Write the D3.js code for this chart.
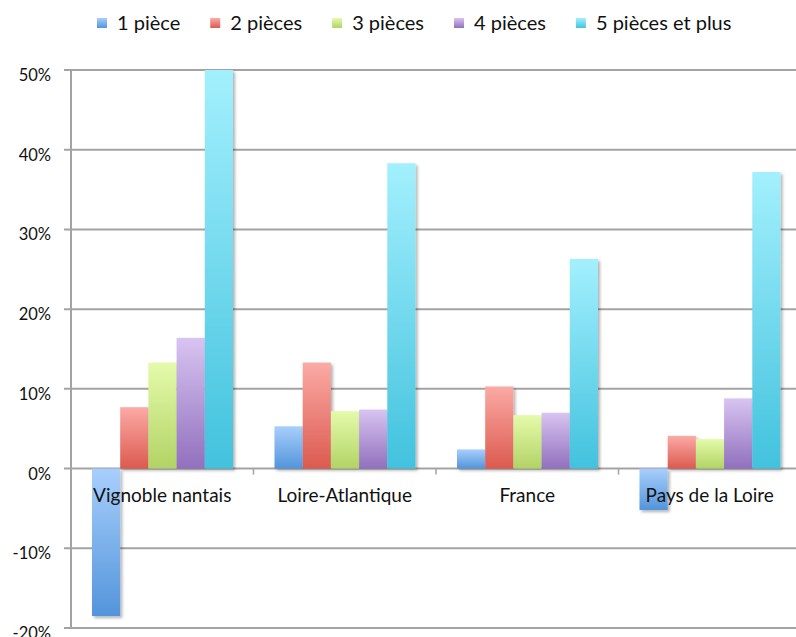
<!DOCTYPE html>
<html>
<head>
<meta charset="utf-8">
<script src="https://cdn.jsdelivr.net/npm/d3@7"></script>
<style>
  body { margin: 0; background: #fff; }
  text { font-family: Lato, "Open Sans", sans-serif; fill: #111; }
</style>
</head>
<body>
<div id="chart"></div>
<script>
"use strict"

var width = 796,
	height = 637;

// data (fractions)
var categories = ["Vignoble nantais", "Loire-Atlantique", "France", "Pays de la Loire"];
var series = ["1 pièce", "2 pièces", "3 pièces", "4 pièces", "5 pièces et plus"];
var v_1p = [-0.185, 0.053, 0.024, -0.052];
var v_2p = [0.077, 0.133, 0.103, 0.041];
var v_3p = [0.133, 0.072, 0.067, 0.037];
var v_4p = [0.164, 0.074, 0.070, 0.088];
var v_5p = [0.500, 0.383, 0.263, 0.372];
var yticks = [-0.2, -0.1, 0, 0.1, 0.2, 0.3, 0.4, 0.5];

var values = [v_1p, v_2p, v_3p, v_4p, v_5p];
// light (top) / dark (bottom) gradient stops
var colors = [
	["#a8cffc", "#5394db"],
	["#fbaaa5", "#dc5a4f"],
	["#e4fbab", "#b2d365"],
	["#d8c4f1", "#9170bd"],
	["#a3f0fd", "#42c2de"]
];

var x0 = 71, band = 182.5;

var svg = d3.select("#chart").append("svg")
	.attr("width", width)
	.attr("height", height);

var defs = svg.append("defs");
colors.forEach(function(c, i) {
	var g = defs.append("linearGradient")
		.attr("id", "grad" + i)
		.attr("x1", 0).attr("y1", 0).attr("x2", 0).attr("y2", 1);
	g.append("stop").attr("offset", "0%").attr("stop-color", c[0]);
	g.append("stop").attr("offset", "100%").attr("stop-color", c[1]);
});
var f = defs.append("filter").attr("id", "shadow")
	.attr("x", "-20%").attr("y", "-10%").attr("width", "150%").attr("height", "130%");
f.append("feDropShadow")
	.attr("dx", 2).attr("dy", 2).attr("stdDeviation", 1.8)
	.attr("flood-color", "#000").attr("flood-opacity", 0.3);

var xscale = d3.scaleBand()
	.domain(categories)
	.range([x0, x0 + band * categories.length]);

var xinner = d3.scaleBand()
	.domain(series)
	.range([21, band - 20.5]);

var yscale = d3.scaleLinear()
	.domain([-0.2, 0.5])
	.range([628, 70]);

// plain hyphen for negatives, like the original
var pct = function(d) { return Math.round(d * 100) + "%"; };

// gridlines + y ticks
svg.append("g").selectAll("line").data(yticks).enter().append("line")
	.attr("x1", x0 - 7)
	.attr("x2", width)
	.attr("y1", function(d) { return yscale(d); })
	.attr("y2", function(d) { return yscale(d); })
	.attr("stroke", "#a3a3a3")
	.attr("stroke-width", 2);

svg.append("line")
	.attr("x1", x0).attr("x2", x0)
	.attr("y1", yscale(0.5)).attr("y2", yscale(-0.2))
	.attr("stroke", "#a3a3a3")
	.attr("stroke-width", 2);

svg.append("g").selectAll("text").data(yticks).enter().append("text")
	.attr("x", 51)
	.attr("y", function(d) { return yscale(d) + 11; })
	.attr("text-anchor", "end")
	.style("font-size", "16.5px")
	.text(pct);

// category ticks on the zero line
svg.append("g").selectAll("line").data(categories.slice(1)).enter().append("line")
	.attr("x1", function(d) { return xscale(d); })
	.attr("x2", function(d) { return xscale(d); })
	.attr("y1", yscale(0))
	.attr("y2", yscale(0) + 6)
	.attr("stroke", "#a3a3a3")
	.attr("stroke-width", 1.5);

// bars
var groups = svg.append("g").selectAll("g").data(series).enter().append("g")
	.attr("fill", function(d, i) { return "url(#grad" + i + ")"; });

groups.selectAll("rect")
	.data(function(s, i) {
		return categories.map(function(c, j) { return {cat: c, s: s, v: values[i][j]}; });
	})
	.enter().append("rect")
	.attr("x", function(d) { return xscale(d.cat) + xinner(d.s); })
	.attr("width", xinner.bandwidth())
	.attr("y", function(d) { return yscale(Math.max(0, d.v)); })
	.attr("height", function(d) { return Math.abs(yscale(d.v) - yscale(0)); })
	.attr("filter", "url(#shadow)");

// category labels
svg.append("g").selectAll("text").data(categories).enter().append("text")
	.attr("x", function(d) { return xscale(d) + band / 2; })
	.attr("y", 502)
	.attr("text-anchor", "middle")
	.style("font-size", "19px")
	.text(function(d) { return d; });

// legend
var lx = 97;
var legend = svg.append("g");
series.forEach(function(s, i) {
	legend.append("rect")
		.attr("x", lx).attr("y", 18)
		.attr("width", 10).attr("height", 10)
		.attr("fill", "url(#grad" + i + ")");
	var t = legend.append("text")
		.attr("x", lx + 20).attr("y", 30)
		.style("font-size", "20px")
		.text(s);
	lx += 20 + t.node().getComputedTextLength() + 30;
});
</script>
</body>
</html>
